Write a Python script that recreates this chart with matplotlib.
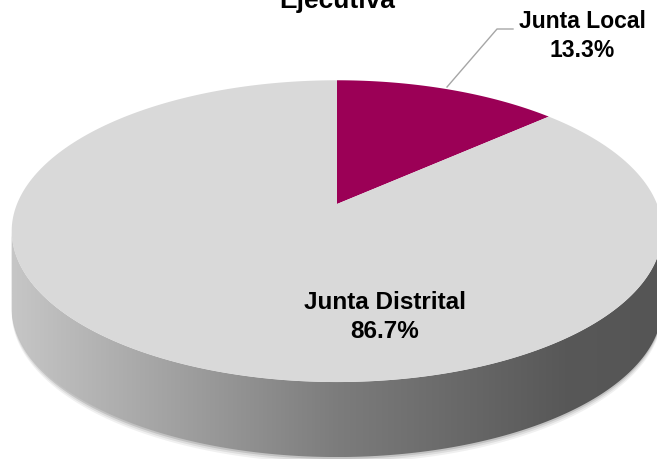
import numpy as np
import matplotlib.pyplot as plt
from matplotlib.patches import Polygon
from matplotlib.colors import LinearSegmentedColormap

labels = ['Junta Local', 'Junta Distrital']
values = [13.3, 86.7]
colors = ['#9B0056', '#D9D9D9']
title = 'Ejecutiva'

W, H = 657, 460
# apex of the pie in pixels, radii and perspective factor
cx, cy = 337, 205
rx, ry = 320, 146
persp = 0.18
depth = 75


def project(theta):
    u, v = np.cos(theta), np.sin(theta)
    d = 1 + persp * v
    return cx + rx * u / d, cy - ry * v / d


fig = plt.figure(figsize=(W / 100, H / 100), dpi=100)
ax = fig.add_axes([0, 0, 1, 1])
ax.set_xlim(0, W)
ax.set_ylim(H, 0)
ax.axis('off')

# side of the cylinder (front half)
t0 = np.pi + np.arcsin(persp)
t1 = 2 * np.pi - np.arcsin(persp)
ts = np.linspace(t0, t1, 200)
fx, fy = project(ts)
side_x = np.concatenate([fx, fx[::-1]])
side_y = np.concatenate([fy, fy[::-1] + depth])

# soft shadow under the side
for k, a in zip([6, 4, 2], [0.06, 0.08, 0.12]):
    ax.add_patch(Polygon(np.column_stack([side_x, np.concatenate([fy, fy[::-1] + depth + k])]),
                         closed=True, fc='black', ec='none', alpha=a))

side = Polygon(np.column_stack([side_x, side_y]), closed=True, fc='none', ec='none')
ax.add_patch(side)
cmap = LinearSegmentedColormap.from_list(
    'side', [(0, '#c6c6c6'), (0.5, '#7c7c7c'), (0.85, '#585858'), (1, '#555555')])
grad = np.linspace(0, 1, 256).reshape(1, -1)
img = ax.imshow(grad, cmap=cmap, extent=[fx.min(), fx.max(), fy.max() + depth, fy.min()],
                aspect='auto', zorder=1)
img.set_clip_path(side)
ax.set_xlim(0, W)
ax.set_ylim(H, 0)

# top face wedges, clockwise from 12 o'clock
start = np.pi / 2
total = sum(values)
for val, col in zip(values, colors):
    sweep = 2 * np.pi * val / total
    th = np.linspace(start, start - sweep, 300)
    px, py = project(th)
    pts = np.column_stack([np.concatenate([[cx], px]), np.concatenate([[cy], py])])
    ax.add_patch(Polygon(pts, closed=True, fc=col, ec='none', zorder=2))
    start -= sweep

lab_font = dict(family=['Liberation Sans', 'DejaVu Sans'], weight='bold', fontsize=16.5,
                ha='center', va='center', color='black', zorder=5)

# Junta Local label with leader line
ax.plot([447, 497, 513], [88, 30, 30], color='#a6a6a6', lw=1, zorder=4)
ax.text(582, 36, f'{labels[0]}\n{values[0]}%', linespacing=1.3, **lab_font)

# Junta Distrital label
ax.text(385, 317, f'{labels[1]}\n{values[1]}%', linespacing=1.3,
        **{**lab_font, 'fontsize': 17.5})

fig.text(337 / W, 1 - 8 / H, title, ha='center', va='baseline', fontsize=19,
         weight='bold', family=['Liberation Sans', 'DejaVu Sans'])

fig.savefig('out.png', dpi=100)
